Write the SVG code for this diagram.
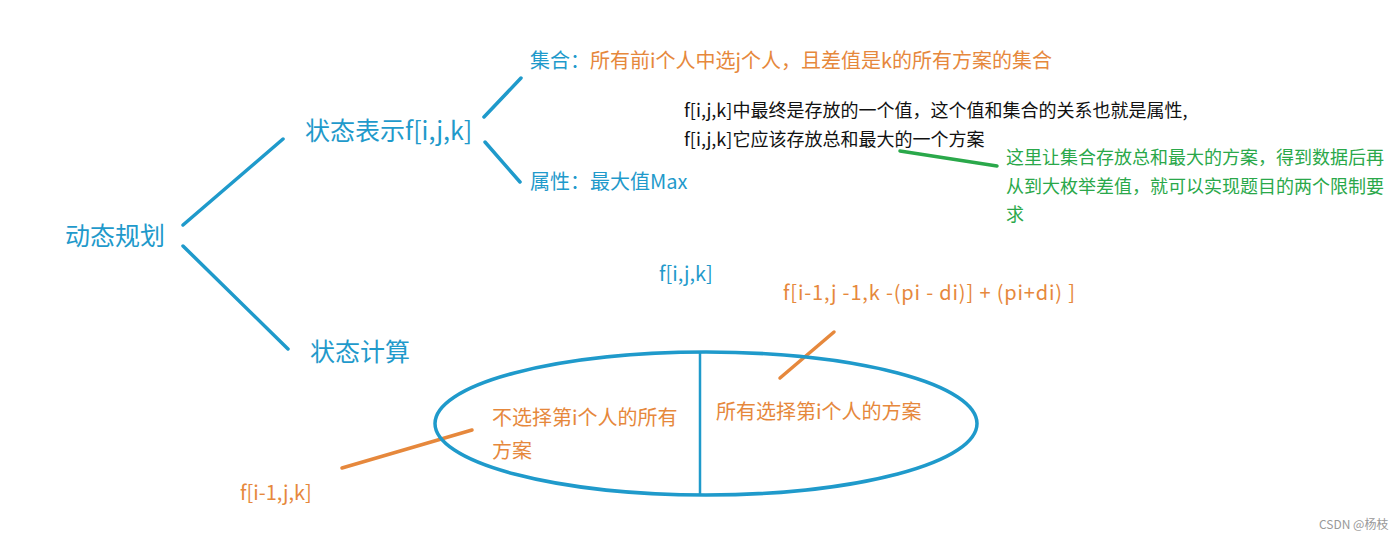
<svg xmlns="http://www.w3.org/2000/svg" width="1400" height="537" viewBox="0 0 1400 537">
<style>
text{font-family:"Noto Sans CJK SC","Microsoft YaHei",sans-serif;}
.b{fill:#1f9acb}
.o{fill:#e6883c}
.g{fill:#2aa84a}
.k{fill:#111}
.lb{stroke:#1f9acb;stroke-width:3.5;fill:none;stroke-linecap:round}
.lo{stroke:#e6883c;stroke-width:3.5;fill:none;stroke-linecap:round}
.lg{stroke:#2aa84a;stroke-width:3.5;fill:none;stroke-linecap:round}
</style>
<rect width="1400" height="537" fill="#fff"/>
<g id="connectors">
<line class="lb" x1="183" y1="225" x2="283" y2="139"/>
<line class="lb" x1="183" y1="246" x2="288" y2="349"/>
<line class="lb" x1="484" y1="117" x2="521" y2="78"/>
<line class="lb" x1="485" y1="142" x2="520" y2="182"/>
<line class="lg" x1="900" y1="151" x2="997" y2="166"/>
<line class="lo" x1="780" y1="378" x2="834" y2="332"/>
<line class="lo" x1="342" y1="468" x2="472" y2="430"/>
</g>
<g id="root"><text class="b" x="65" y="245" font-size="25">动态规划</text></g>
<g id="state-rep"><text class="b" x="305" y="140" font-size="25">状态表示f[i,j,k]</text></g>
<g id="set"><text x="530" y="68" font-size="20"><tspan class="b">集合：</tspan><tspan class="o">所有前i个人中选j个人，且差值是k的所有方案的集合</tspan></text></g>
<g id="attr"><text class="b" x="530" y="189" font-size="20">属性：最大值Max</text></g>
<g id="note"><text class="k" font-size="18"><tspan x="684" y="117">f[i,j,k]中最终是存放的一个值，这个值和集合的关系也就是属性,</tspan><tspan x="684" y="146">f[i,j,k]它应该存放总和最大的一个方案</tspan></text></g>
<g id="green-note"><text class="g" font-size="18"><tspan x="1006" y="164">这里让集合存放总和最大的方案，得到数据后再</tspan><tspan x="1006" y="193">从到大枚举差值，就可以实现题目的两个限制要</tspan><tspan x="1006" y="221">求</tspan></text></g>
<g id="fijk"><text class="b" x="659" y="281" font-size="20">f[i,j,k]</text></g>
<g id="formula"><text class="o" x="783" y="300" font-size="20" textLength="292" lengthAdjust="spacing">f[i-1,j -1,k -(pi - di)] + (pi+di) ]</text></g>
<g id="state-calc"><text class="b" x="310" y="361" font-size="25">状态计算</text></g>
<g id="ellipse">
<ellipse cx="706" cy="423.5" rx="271" ry="71.5" fill="none" stroke="#1f9acb" stroke-width="3.5"/>
<line x1="700" y1="352" x2="700" y2="495" stroke="#1f9acb" stroke-width="2.5"/>
</g>
<g id="not-select"><text class="o" font-size="20"><tspan x="492" y="425">不选择第i个人的所有</tspan><tspan x="492" y="458">方案</tspan></text></g>
<g id="select"><text class="o" x="716" y="419" font-size="20">所有选择第i个人的方案</text></g>
<g id="fi1jk"><text class="o" x="240" y="500" font-size="20">f[i-1,j,k]</text></g>
<text x="1319" y="529" font-size="12" fill="#999">CSDN @杨枝</text>
</svg>
